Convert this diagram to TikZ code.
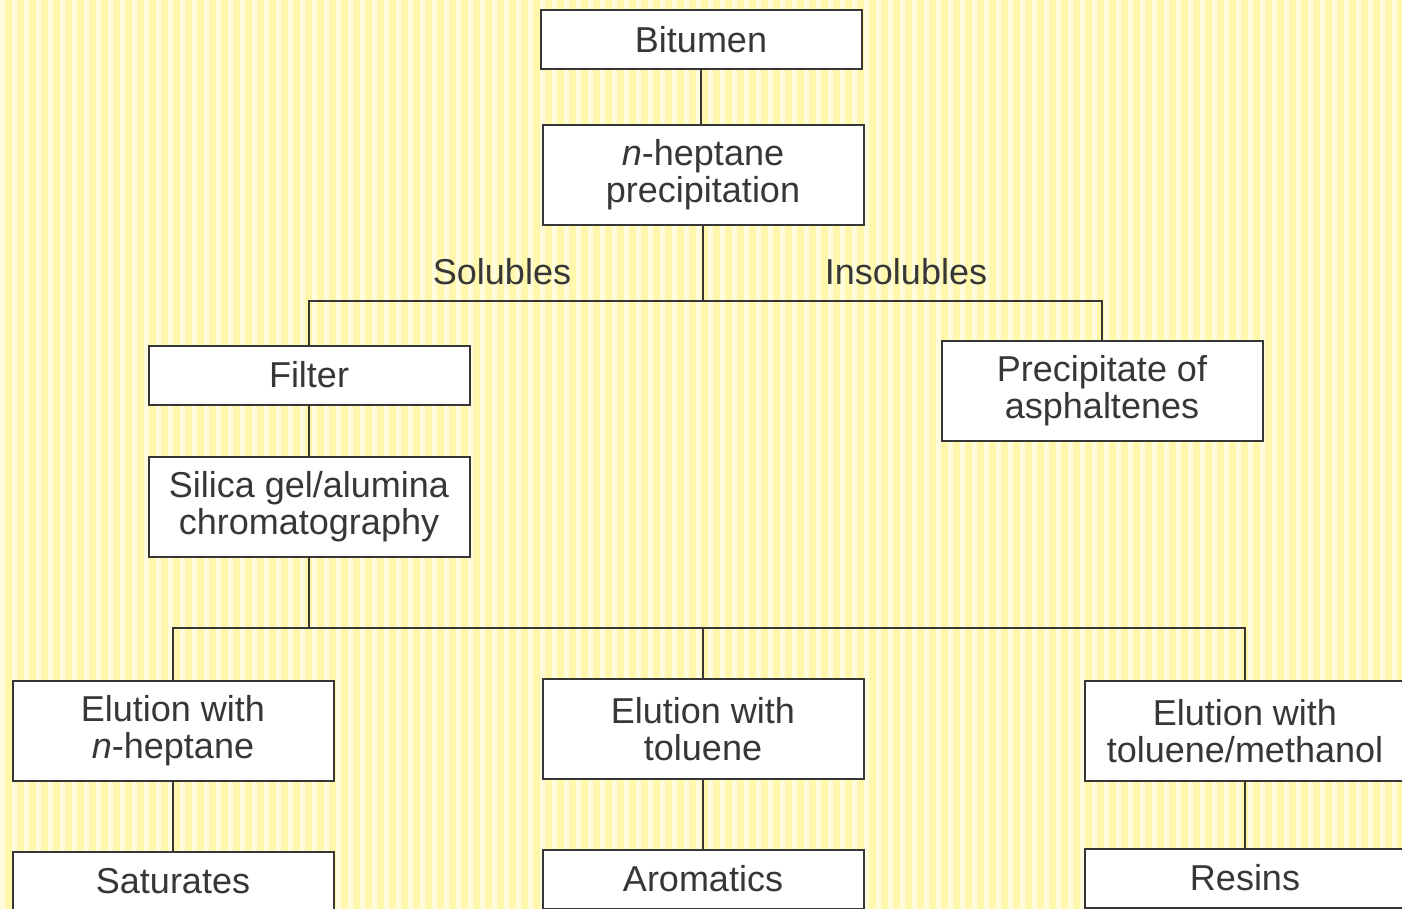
\documentclass[tikz,border=0pt]{standalone}
\usepackage{fontspec}
\setmainfont{Liberation Sans}
\usetikzlibrary{positioning}
\definecolor{paper}{RGB}{255,248,172}
\definecolor{ink}{RGB}{55,55,55}

\begin{document}
\begin{tikzpicture}[x=1pt,y=-1pt,node distance=150pt,
                    link/.style={draw=ink,line width=2pt},
                    main node/.style={rectangle,draw=ink,line width=2pt,fill=white,text=ink,
                      minimum width=321pt,minimum height=59pt,inner sep=0pt,align=center,
                      font=\fontsize{36}{37}\selectfont},
                    tall node/.style={main node,minimum height=100pt},
                    side text/.style={text=ink,font=\fontsize{36}{37}\selectfont}]

  % paper with light stripes
  \useasboundingbox (0,0) rectangle (1402,909);
  \fill[paper] (0,0) rectangle (1402,909);
  \foreach \x in {0,12,...,1400}
    \fill[white,opacity=0.6] (\x,0) rectangle ++(5,909);

  \node[main node] (bit) at (701,40) {Bitumen};
  \node[tall node] (prec) at (703,175) {\textit{n}-heptane\\precipitation};
  \node[main node] (filter) at (309,375) {Filter};
  \node[tall node] (asph) at (1102,391) {Precipitate of\\asphaltenes};
  \node[tall node] (silica) [below of=filter, node distance=132pt] {Silica gel/alumina\\chromatography};
  \node[tall node] (elhep) at (173,731) {Elution with\\\textit{n}-heptane};
  \node[tall node] (eltol) at (703,729) {Elution with\\toluene};
  \node[tall node] (elmeth) at (1245,731) {Elution with\\toluene/methanol};
  \node[main node] (sat) [below of=elhep] {Saturates};
  \node[main node] (arom) [below of=eltol] {Aromatics};
  \node[main node] (resins) [below of=elmeth, node distance=147pt] {Resins};

  \node[side text] (solu) at (502,272) {Solubles};
  \node[side text] (insolu) at (906,272) {Insolubles};

  \coordinate (split) at (703,301);
  \coordinate (fork) at (silica.south |- 0,628);

  \draw[link] (bit.south) -- (bit.south |- prec.north);
  \draw[link] (prec) -- (split);
  \draw[link] (split) -| (filter);
  \draw[link] (split) -| (asph);
  \draw[link] (filter) -- (silica);
  \draw[link] (silica.south) -- (fork);
  \draw[link] (fork) -| (elhep);
  \draw[link] (fork) -| (eltol);
  \draw[link] (fork) -| (elmeth);
  \draw[link] (elhep) -- (sat);
  \draw[link] (eltol) -- (arom);
  \draw[link] (elmeth) -- (resins);
\end{tikzpicture}
\end{document}
